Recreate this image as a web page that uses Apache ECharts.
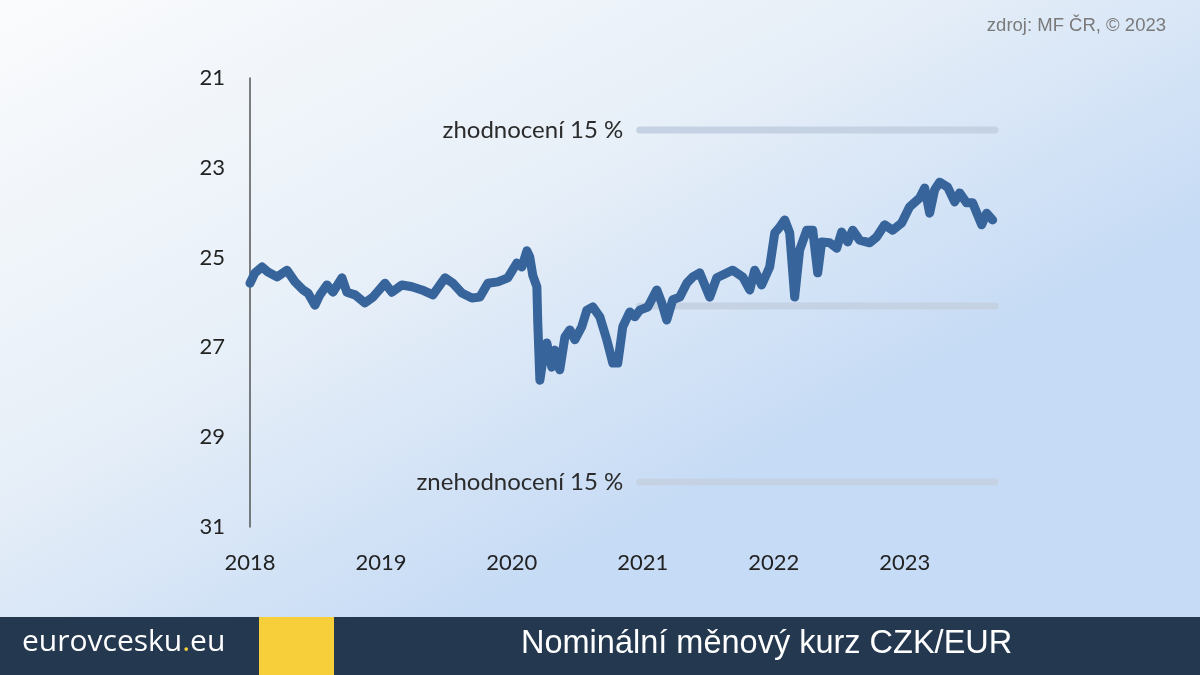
<!DOCTYPE html>
<html>
<head>
<meta charset="utf-8">
<script src="https://cdn.jsdelivr.net/npm/echarts@6/dist/echarts.min.js"></script>
<style>
html,body{margin:0;padding:0;width:1200px;height:675px;overflow:hidden;}
#c{width:1200px;height:675px;}
</style>
</head>
<body>
<div id="c"></div>
<script>
// Decimal years of the traced points
const years = [2018.000, 2018.038, 2018.092, 2018.137, 2018.206, 2018.282, 2018.344, 2018.405, 2018.443, 2018.496,
  2018.534, 2018.588, 2018.634, 2018.702, 2018.740, 2018.802, 2018.878, 2018.939, 2019.031, 2019.084,
  2019.160, 2019.237, 2019.313, 2019.397, 2019.489, 2019.550, 2019.618, 2019.695, 2019.756, 2019.817,
  2019.893, 2019.969, 2020.038, 2020.076, 2020.115, 2020.137, 2020.160, 2020.191, 2020.198, 2020.214,
  2020.237, 2020.267, 2020.305, 2020.328, 2020.366, 2020.405, 2020.443, 2020.481, 2020.534, 2020.573,
  2020.618, 2020.672, 2020.725, 2020.771, 2020.809, 2020.847, 2020.901, 2020.939, 2020.977, 2021.038,
  2021.107, 2021.145, 2021.183, 2021.229, 2021.282, 2021.336, 2021.382, 2021.435, 2021.511, 2021.565,
  2021.687, 2021.763, 2021.817, 2021.855, 2021.908, 2021.969, 2022.008, 2022.046, 2022.084, 2022.122,
  2022.160, 2022.198, 2022.252, 2022.298, 2022.336, 2022.366, 2022.427, 2022.481, 2022.519, 2022.565,
  2022.603, 2022.656, 2022.733, 2022.786, 2022.847, 2022.908, 2022.977, 2023.038, 2023.115, 2023.153,
  2023.191, 2023.229, 2023.267, 2023.328, 2023.382, 2023.420, 2023.473, 2023.519, 2023.588, 2023.626,
  2023.672];
// CZK per EUR
const rates = [25.57, 25.34, 25.21, 25.32, 25.43, 25.28, 25.54, 25.72, 25.79, 26.06,
  25.83, 25.61, 25.77, 25.45, 25.77, 25.83, 26.01, 25.88, 25.57, 25.77,
  25.61, 25.65, 25.72, 25.83, 25.45, 25.57, 25.79, 25.90, 25.88, 25.57,
  25.54, 25.45, 25.12, 25.21, 24.85, 24.99, 25.40, 25.65, 26.46, 27.73,
  27.28, 26.90, 27.44, 27.06, 27.50, 26.77, 26.61, 26.83, 26.54, 26.17,
  26.10, 26.32, 26.83, 27.35, 27.35, 26.54, 26.21, 26.32, 26.17, 26.10,
  25.72, 26.01, 26.39, 25.94, 25.88, 25.57, 25.43, 25.34, 25.88, 25.45,
  25.28, 25.43, 25.72, 25.28, 25.61, 25.21, 24.45, 24.32, 24.16, 24.45,
  25.88, 24.83, 24.39, 24.39, 25.34, 24.65, 24.67, 24.79, 24.43, 24.65,
  24.39, 24.61, 24.67, 24.54, 24.27, 24.39, 24.23, 23.87, 23.67, 23.45,
  24.01, 23.49, 23.32, 23.43, 23.76, 23.56, 23.78, 23.78, 24.27, 24.01,
  24.16];
// Reference band
const bandStart = 2020.977;
const bandEnd = 2023.69;
const bandCenter = 26.08;
const bandUpper = 22.16;   // zhodnocení 15 %
const bandLower = 30.0;    // znehodnocení 15 %
const yTicks = [21, 23, 25, 27, 29, 31];
const xTicks = [2018, 2019, 2020, 2021, 2022, 2023];

const chart = echarts.init(document.getElementById('c'));
const refColor = '#c5d2e3';
function refSeries(v, label) {
  const first = { value: [bandStart, v] };
  if (label) {
    first.label = { show: true, position: 'left', distance: 16, formatter: label,
      fontFamily: 'Lato', fontSize: 24, color: '#2b2b2b' };
  }
  return {
    type: 'line', silent: true, z: 1,
    symbol: 'circle', symbolSize: 1, showSymbol: true,
    itemStyle: { color: 'rgba(0,0,0,0)' },
    lineStyle: { color: refColor, width: 7, cap: 'round' },
    data: [first, { value: [bandEnd, v], label: { show: false } }],
    animation: false
  };
}
chart.setOption({
  animation: false,
  backgroundColor: {
    type: 'linear', x: 0, y: 0, x2: 0.3, y2: 1,
    colorStops: [
      { offset: 0, color: '#fafbfc' },
      { offset: 0.55, color: '#e7eff8' },
      { offset: 1, color: '#c6dbf5' }
    ]
  },
  grid: { left: 250, top: 78, right: 205, height: 449, containLabel: false },
  xAxis: {
    type: 'value', min: 2018, max: bandEnd, interval: 1,
    axisLine: { show: false }, axisTick: { show: false }, splitLine: { show: false },
    axisLabel: {
      margin: 25, fontFamily: 'Lato', fontSize: 22, color: '#222',
      formatter: v => xTicks.includes(Math.round(v * 1000) / 1000) ? String(v) : ''
    }
  },
  yAxis: {
    type: 'value', inverse: true, min: 21, max: 31, interval: 2,
    axisLine: { show: true, lineStyle: { color: '#555', width: 1.5 } },
    axisTick: { show: false }, splitLine: { show: false },
    axisLabel: {
      margin: 25, fontFamily: 'Lato', fontSize: 22, color: '#222',
      formatter: v => yTicks.includes(v) ? String(v) : ''
    }
  },
  series: [
    refSeries(bandUpper, 'zhodnocení 15 %'),
    refSeries(bandCenter, null),
    refSeries(bandLower, 'znehodnocení 15 %'),
    {
      type: 'line', z: 5, showSymbol: false, symbol: 'none',
      lineStyle: { color: '#37649a', width: 9, cap: 'round', join: 'round' },
      data: years.map((y, i) => [y, rates[i]])
    }
  ],
  graphic: [
    { type: 'text', right: 34, top: 16,
      style: { text: 'zdroj: MF ČR, © 2023', font: '18.5px "Liberation Sans", Arial, sans-serif', fill: '#7a7a7a' } },
    { type: 'rect', left: 0, top: 617, shape: { x: 0, y: 0, width: 1200, height: 58 },
      style: { fill: '#243850' }, z: 10 },
    { type: 'rect', left: 259, top: 617, shape: { x: 0, y: 0, width: 75, height: 58 },
      style: { fill: '#f6cf3a' }, z: 11 },
    { type: 'text', left: 22, top: 627, z: 12,
      style: {
        text: '{a|eurovcesku}{b|.}{a|eu}',
        rich: {
          a: { fontFamily: 'Open Sans', fontSize: 30, fill: '#ffffff' },
          b: { fontFamily: 'Open Sans', fontSize: 30, fill: '#f6cf3a' }
        }
      } },
    { type: 'text', left: 521, top: 628, z: 12,
      style: { text: 'Nominální měnový kurz CZK/EUR', font: '32.5px "Liberation Sans", Arial, sans-serif', fill: '#ffffff' } }
  ]
});
</script>
</body>
</html>
